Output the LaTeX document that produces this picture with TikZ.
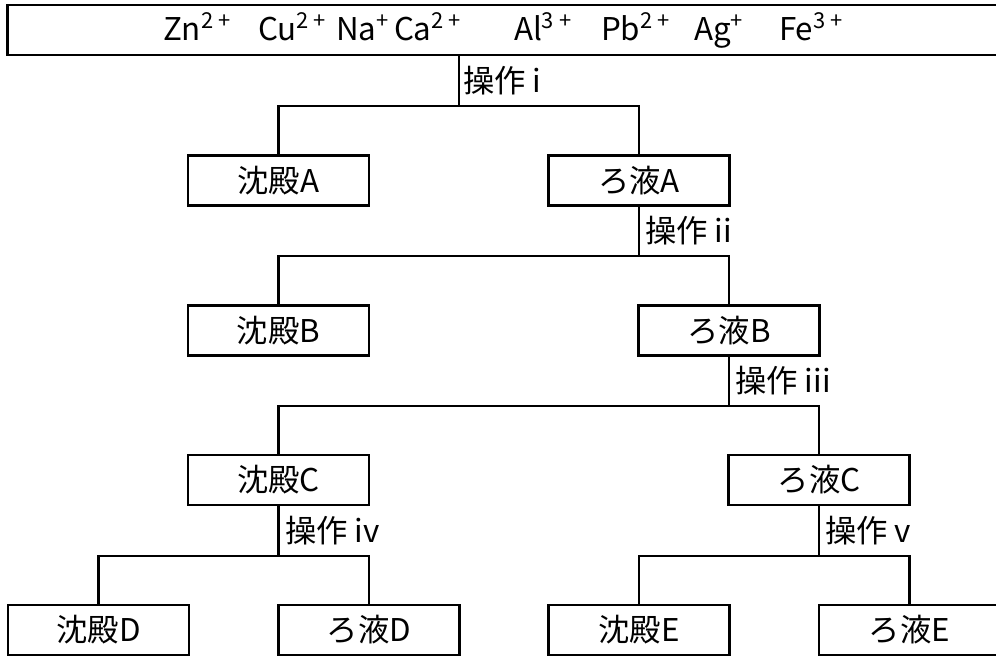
\documentclass[tikz,border=0pt]{standalone}
\usepackage{fontspec}
\setmainfont{Noto Sans CJK JP}
\tikzset{
  box/.style={draw, line width=2.2pt, inner sep=0pt, minimum width=135.75pt,
    minimum height=37.5pt, font=\fontsize{23.5}{26}\selectfont},
  topbox/.style={draw, line width=2.2pt, inner sep=0pt, minimum width=748pt,
    minimum height=37.5pt, font=\fontsize{23.5}{26}\selectfont},
  link/.style={line width=2.2pt},
  oplabel/.style={anchor=west, inner sep=0pt, font=\fontsize{23.5}{26}\selectfont}
}
\newcommand{\ion}[3]{\makebox[#1][l]{#2\textsuperscript{#3}}}
\begin{document}
\begin{tikzpicture}[x=0.75pt, y=-0.75pt]
\useasboundingbox (0,0) rectangle (996,656);
\clip (0,0) rectangle (996,656);
% top box
\node[topbox] (top) at (506.5,30) {\ion{71.25pt}{Zn}{2 +}\ion{58.5pt}{Cu}{2 +}\ion{43.5pt}{Na}{+}\ion{90pt}{Ca}{2 +}\ion{65.25pt}{Al}{3 +}\ion{69.75pt}{Pb}{2 +}\ion{63.75pt}{Ag}{+}\ion{53.25pt}{Fe}{3 +}};
% boxes
\node[box] (pA) at (278.5,180.5) {沈殿A};
\node[box] (fA) at (639,180.5) {ろ液A};
\node[box] (pB) at (278.5,330.5) {沈殿B};
\node[box] (fB) at (729,330.5) {ろ液B};
\node[box] (pC) at (278.5,480) {沈殿C};
\node[box] (fC) at (819,480) {ろ液C};
\node[box] (pD) at (98.5,630) {沈殿D};
\node[box] (fD) at (369,630) {ろ液D};
\node[box] (pE) at (639,630) {沈殿E};
\node[box] (fE) at (909.5,630) {ろ液E};
% junctions
\coordinate (j1) at (459,106);
\coordinate (j2) at (639,256);
\coordinate (j3) at (729,406);
\coordinate (j4) at (278.5,556);
\coordinate (j5) at (819,556);
% connectors
\draw[link] (top.south -| j1) -- (j1);
\draw[link] (pA.north) |- (j1) -| (fA.north);
\draw[link] (fA.south) -- (j2);
\draw[link] (pB.north) |- (j2) -| (fB.north);
\draw[link] (fB.south) -- (j3);
\draw[link] (pC.north) |- (j3) -| (fC.north);
\draw[link] (pC.south) -- (j4);
\draw[link] (pD.north) |- (j4) -| (fD.north);
\draw[link] (fC.south) -- (j5);
\draw[link] (pE.north) |- (j5) -| (fE.north);
% operation labels
\node[oplabel] (op1) at (463,81) {操作 i};
\node[oplabel] (op2) at (645,231) {操作 ii};
\node[oplabel] (op3) at (735,381) {操作 iii};
\node[oplabel] (op4) at (285,531) {操作 iv};
\node[oplabel] (op5) at (825,531) {操作 v};
\end{tikzpicture}
\end{document}
